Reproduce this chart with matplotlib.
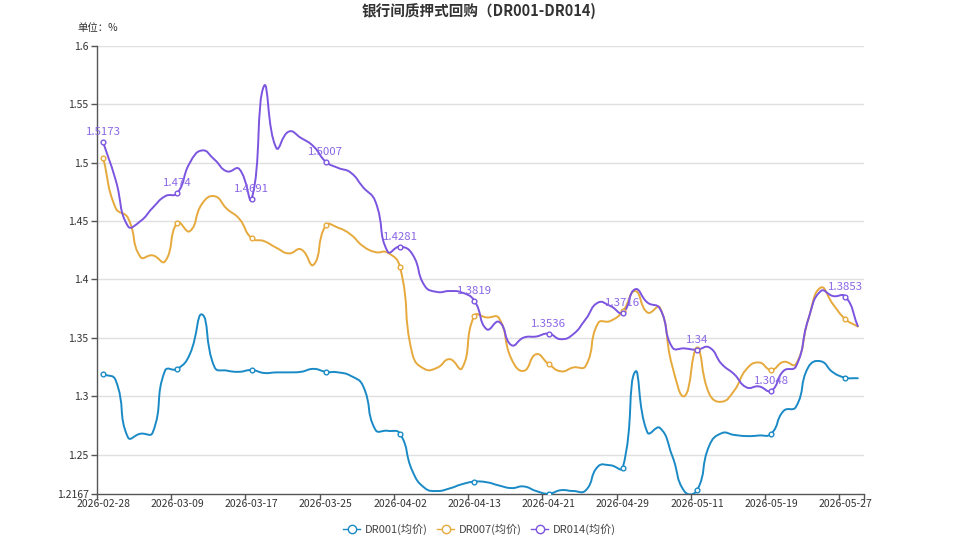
import numpy as np
import matplotlib
matplotlib.use('Agg')
import matplotlib.pyplot as plt
from matplotlib.path import Path
from matplotlib.patches import PathPatch
from matplotlib.lines import Line2D

plt.rcParams['font.family'] = ['Noto Sans CJK SC', 'DejaVu Sans']

# trading days (category axis)
dates = ['2026-02-28', '2026-03-02', '2026-03-03', '2026-03-04', '2026-03-05', '2026-03-06',
         '2026-03-09', '2026-03-10', '2026-03-11', '2026-03-12', '2026-03-13', '2026-03-16',
         '2026-03-17', '2026-03-18', '2026-03-19', '2026-03-20', '2026-03-23', '2026-03-24',
         '2026-03-25', '2026-03-26', '2026-03-27', '2026-03-30', '2026-03-31', '2026-04-01',
         '2026-04-02', '2026-04-03', '2026-04-07', '2026-04-08', '2026-04-09', '2026-04-10',
         '2026-04-13', '2026-04-14', '2026-04-15', '2026-04-16', '2026-04-17', '2026-04-20',
         '2026-04-21', '2026-04-22', '2026-04-23', '2026-04-24', '2026-04-27', '2026-04-28',
         '2026-04-29', '2026-04-30', '2026-05-06', '2026-05-07', '2026-05-08', '2026-05-09',
         '2026-05-11', '2026-05-12', '2026-05-13', '2026-05-14', '2026-05-15', '2026-05-18',
         '2026-05-19', '2026-05-20', '2026-05-21', '2026-05-22', '2026-05-25', '2026-05-26',
         '2026-05-27', '2026-05-28']

dr001 = [1.319, 1.314, 1.265, 1.268, 1.269, 1.322, 1.3235, 1.336, 1.370, 1.325,
         1.322, 1.321, 1.3225, 1.320, 1.3205, 1.3205, 1.321, 1.3235, 1.321, 1.3205,
         1.3176, 1.309, 1.2715, 1.2705, 1.268, 1.236, 1.2215, 1.219, 1.2212, 1.2248,
         1.227, 1.2265, 1.2237, 1.2215, 1.2229, 1.219, 1.2167, 1.2197, 1.219, 1.2195,
         1.240, 1.241, 1.239, 1.321, 1.269, 1.273, 1.249, 1.2185, 1.2195, 1.258,
         1.2685, 1.267, 1.266, 1.2665, 1.268, 1.2875, 1.291, 1.325, 1.330, 1.3205,
         1.316, 1.3155]

dr007 = [1.5039, 1.4613, 1.4527, 1.4194, 1.4206, 1.4155, 1.4485, 1.4413, 1.4649, 1.4712,
         1.4604, 1.4519, 1.4353, 1.4328, 1.4271, 1.4223, 1.4257, 1.4125, 1.4462, 1.4442,
         1.4385, 1.4285, 1.4234, 1.4229, 1.4103, 1.336, 1.3233, 1.3245, 1.3318, 1.324,
         1.3688, 1.3675, 1.3668, 1.332, 1.3218, 1.336, 1.3277, 1.3214, 1.3247, 1.326,
         1.3625, 1.3645, 1.3728, 1.3901, 1.3717, 1.3759, 1.326, 1.3003, 1.3404, 1.302,
         1.2954, 1.3048, 1.3233, 1.329, 1.3227, 1.3295, 1.3276, 1.366, 1.393, 1.3787,
         1.366, 1.3597]

dr014 = [1.5173, 1.4854, 1.4456, 1.4498, 1.4613, 1.4712, 1.474, 1.4997, 1.5104, 1.5025,
         1.4925, 1.4945, 1.4691, 1.5655, 1.5125, 1.5265, 1.521, 1.5139, 1.5007, 1.4954,
         1.4915, 1.479, 1.4668, 1.4238, 1.4281, 1.4215, 1.3944, 1.3893, 1.3901, 1.3888,
         1.3819, 1.3574, 1.3637, 1.3438, 1.3503, 1.3512, 1.3536, 1.3489, 1.3532, 1.366,
         1.3802, 1.3773, 1.3716, 1.3916, 1.3802, 1.3751, 1.342, 1.341, 1.34, 1.3418,
         1.3276, 1.319, 1.3077, 1.3085, 1.3048, 1.3218, 1.3256, 1.366, 1.390, 1.3858,
         1.3853, 1.3602]

series = [('DR001(均价)', dr001, '#1a8ac6'),
          ('DR007(均价)', dr007, '#e6a93c'),
          ('DR014(均价)', dr014, '#7b55e0')]

y_ticks = [1.2167, 1.25, 1.3, 1.35, 1.4, 1.45, 1.5, 1.55, 1.6]
y_min, y_max = 1.2167, 1.6


def smooth_path(ax, xs, ys, smooth=0.5):
    # bezier curve through the points, echarts-style, computed in pixel space
    pts = ax.transData.transform(np.column_stack([xs, ys]))
    n = len(pts)
    cps = []
    for i in range(n):
        p = pts[i]
        prev = pts[i - 1] if i > 0 else p
        nxt = pts[i + 1] if i < n - 1 else p
        v = (nxt - prev) * smooth
        d0 = np.hypot(*(p - prev))
        d1 = np.hypot(*(p - nxt))
        s = d0 + d1
        if s > 0:
            d0, d1 = d0 / s, d1 / s
        cps.append((p - v * d0, p + v * d1))
    verts = [pts[0]]
    codes = [Path.MOVETO]
    for i in range(n - 1):
        verts += [cps[i][1], cps[i + 1][0], pts[i + 1]]
        codes += [Path.CURVE4] * 3
    verts = ax.transData.inverted().transform(np.array(verts))
    return Path(verts, codes)


W, H = 959, 539
fig = plt.figure(figsize=(W / 100, H / 100), dpi=100)
ax = fig.add_axes([97 / W, (H - 493.7) / H, (864 - 97) / W, (493.7 - 45.7) / H])

n = len(dates)
x = np.arange(n)
ax.set_xlim(-0.5, n - 0.5)
ax.set_ylim(y_min, y_max)

for yt in y_ticks[1:]:
    ax.axhline(yt, color='#e0e0e0', lw=1.0, zorder=1)

mark_idx = x[::6]
for name, vals, col in series:
    path = smooth_path(ax, x, vals)
    ax.add_patch(PathPatch(path, facecolor='none', edgecolor=col, lw=1.4, zorder=3,
                           capstyle='round', joinstyle='round'))
    ax.plot(mark_idx, np.array(vals)[mark_idx], ls='none', marker='o', ms=3.4,
            mfc='white', mec=col, mew=1.0, zorder=4)

# value labels on DR014
for i in mark_idx:
    ax.annotate(f'{dr014[i]:g}', (i, dr014[i]), xytext=(0, 3.5), textcoords='offset points',
                ha='center', va='bottom', fontsize=8.2, color='#8a66e6', zorder=5)

for s in ['top', 'right']:
    ax.spines[s].set_visible(False)
for s in ['left', 'bottom']:
    ax.spines[s].set_color('#555555')
    ax.spines[s].set_linewidth(1.0)

ax.set_yticks(y_ticks)
ax.set_yticklabels([f'{t:g}' for t in y_ticks])
ax.tick_params(axis='y', length=4, width=1, color='#555555', labelsize=7.5,
               labelcolor='#333333', pad=2)

ax.set_xticks(x[::6])
ax.set_xticklabels([dates[i] for i in range(0, n, 6)])
ax.set_xticks(list(np.arange(-0.5, n, 6)) + [n - 0.5], minor=True)
ax.tick_params(axis='x', which='major', length=0, labelsize=7.5, labelcolor='#333333', pad=4)
ax.tick_params(axis='x', which='minor', length=4, width=1, color='#555555')

fig.text(0.5, 1 - 11 / H, '银行间质押式回购（DR001-DR014)', ha='center', va='center',
         fontsize=10.5, fontweight='bold', color='#333333')
fig.text(77 / W, 1 - 28 / H, '单位：%', ha='left', va='center', fontsize=7.5, color='#333333')

handles = [Line2D([], [], color=col, lw=1.0, marker='o', ms=6, mfc='white', mec=col, mew=1.0)
           for _, _, col in series]
fig.legend(handles, [s[0] for s in series], loc='center', bbox_to_anchor=(0.5, 1 - 529 / H),
           ncol=3, frameon=False, fontsize=8, handlelength=1.5, handletextpad=0.4,
           columnspacing=0.9, labelcolor='#444444')

fig.savefig('out.png', dpi=100)
